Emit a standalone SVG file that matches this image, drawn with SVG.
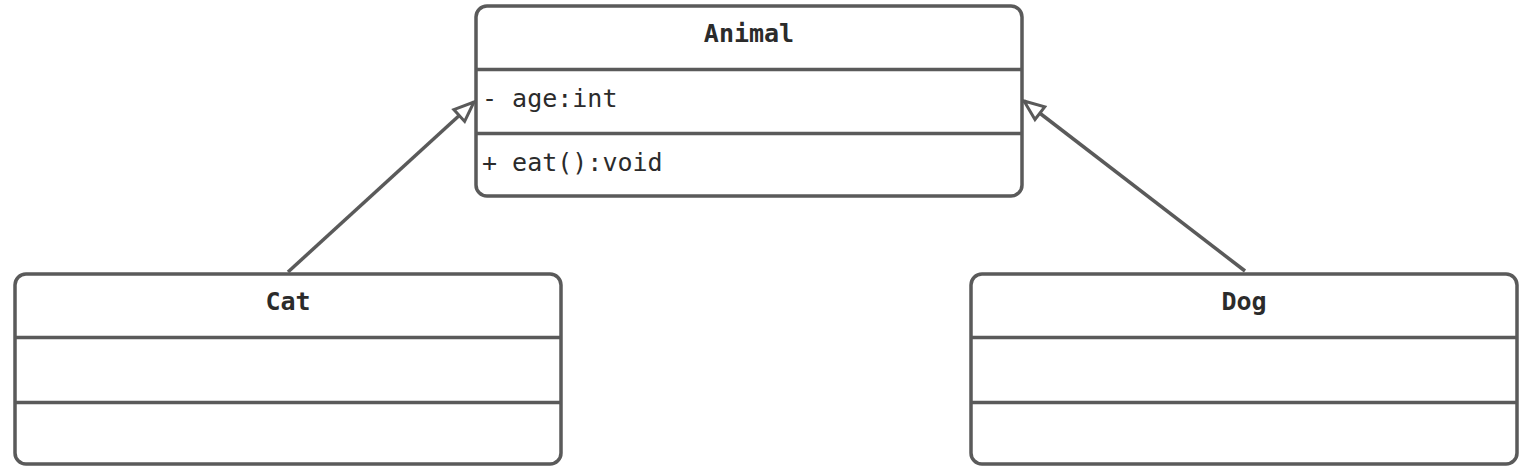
<svg xmlns="http://www.w3.org/2000/svg" width="1536" height="470" viewBox="0 0 1536 470">
<style>
.box{fill:#fff;stroke:#5a5a5a;stroke-width:3.5}
.div{stroke:#5a5a5a;stroke-width:3.5}
.t{font-family:"DejaVu Sans Mono","Liberation Mono",monospace;font-size:25px;fill:#2b2b2b}
.b{font-weight:bold;text-anchor:middle}
.edge{stroke:#5a5a5a;stroke-width:3.5;fill:none}
</style>
<defs>
<marker id="tri" markerUnits="userSpaceOnUse" markerWidth="24" markerHeight="24" viewBox="0 0 24 24" refX="22" refY="12" orient="auto">
<path d="M2,4 L22,12 L2,20 Z" fill="#fff" stroke="#5a5a5a" stroke-width="3"/>
</marker>
</defs>
<g id="connectors">
<line class="edge" x1="288" y1="272" x2="474" y2="102" marker-end="url(#tri)"/>
<line class="edge" x1="1245" y1="271" x2="1024" y2="101" marker-end="url(#tri)"/>
</g>
<g id="animal">
<rect class="box" x="476" y="6" width="546" height="190" rx="11"/>
<line class="div" x1="476" y1="69.5" x2="1022" y2="69.5"/>
<line class="div" x1="476" y1="133.5" x2="1022" y2="133.5"/>
<text class="t b" x="749" y="42">Animal</text>
<text class="t" x="482" y="107">- age:int</text>
<text class="t" x="482" y="171">+ eat():void</text>
</g>
<g id="cat">
<rect class="box" x="15" y="274" width="546" height="190" rx="11"/>
<line class="div" x1="15" y1="337.5" x2="561" y2="337.5"/>
<line class="div" x1="15" y1="402.5" x2="561" y2="402.5"/>
<text class="t b" x="288" y="310">Cat</text>
</g>
<g id="dog">
<rect class="box" x="971" y="274" width="546" height="190" rx="11"/>
<line class="div" x1="971" y1="337.5" x2="1517" y2="337.5"/>
<line class="div" x1="971" y1="402.5" x2="1517" y2="402.5"/>
<text class="t b" x="1244" y="310">Dog</text>
</g>
</svg>
